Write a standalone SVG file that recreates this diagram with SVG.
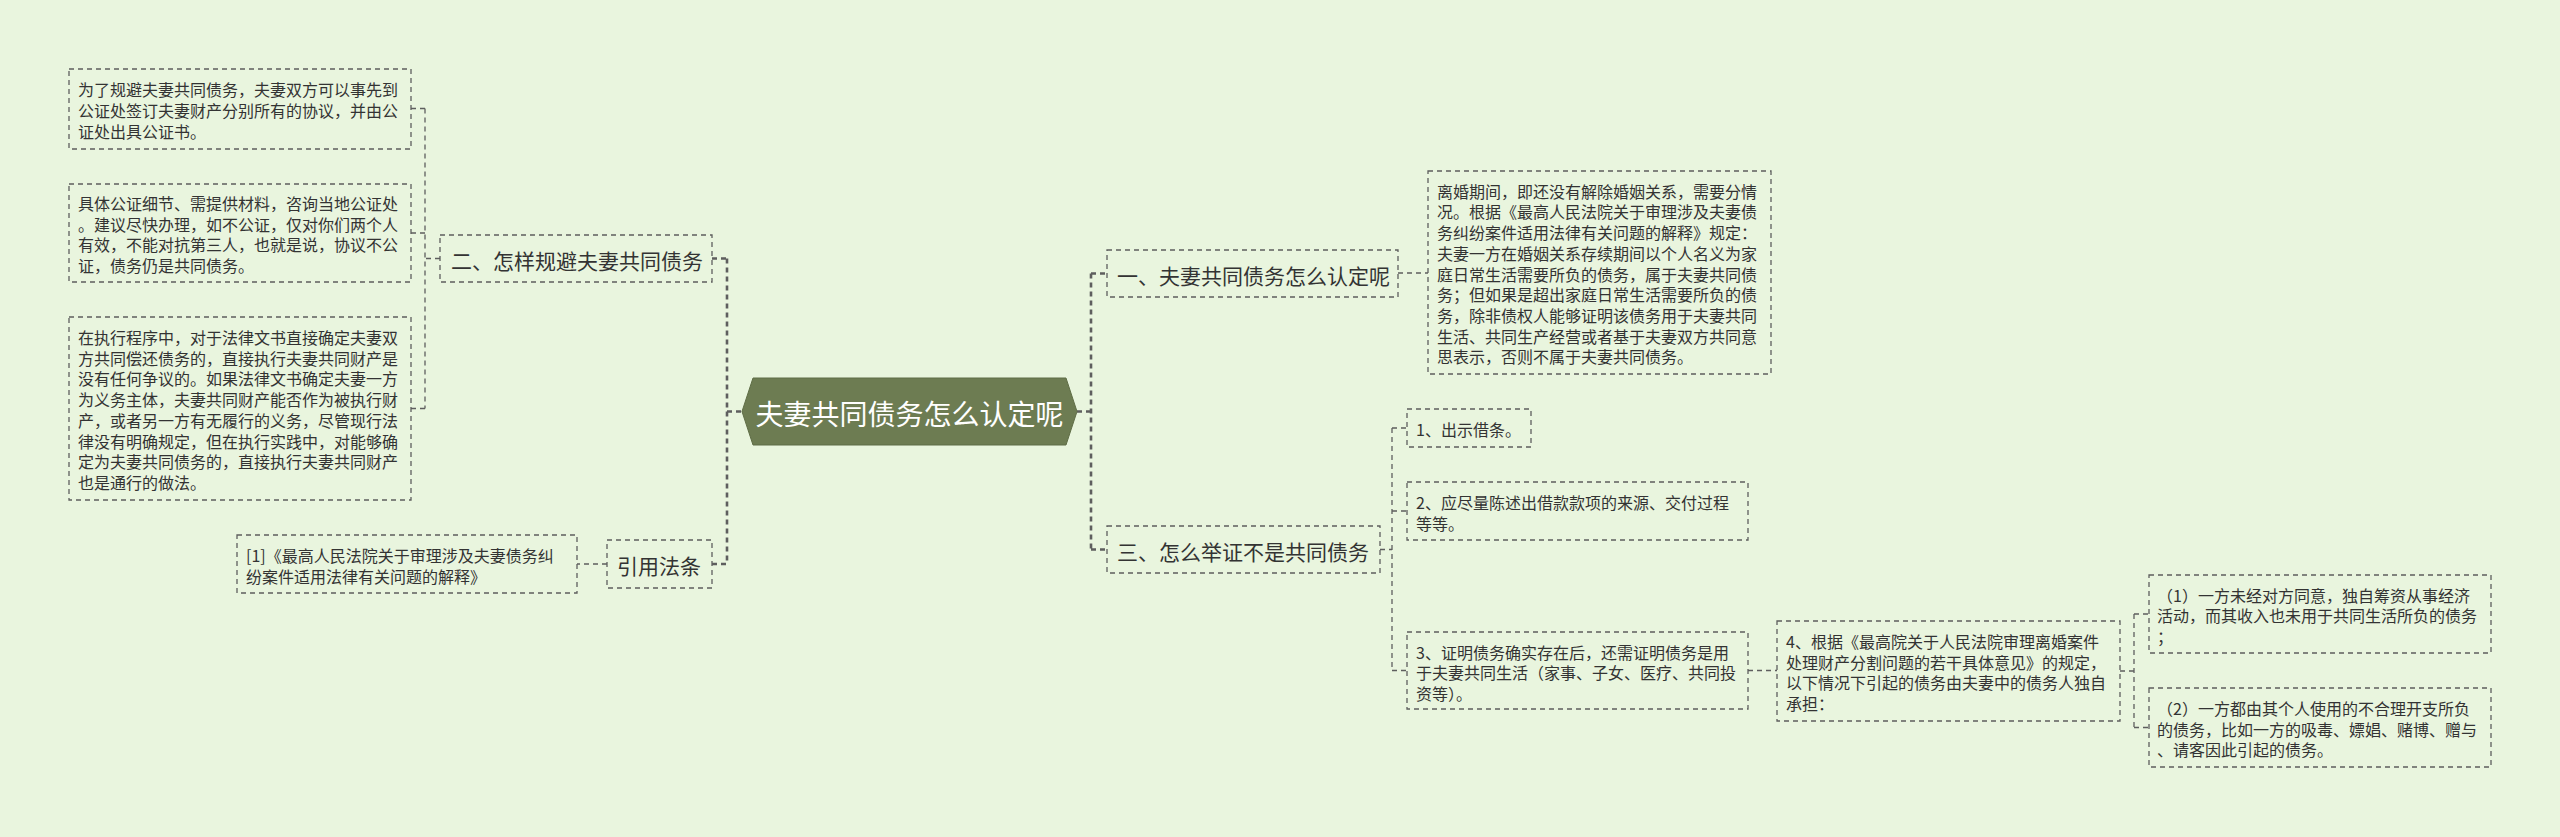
<svg xmlns="http://www.w3.org/2000/svg" width="2560" height="837" viewBox="0 0 2560 837">
<style>
.bg{fill:#e9f5de}
.box{fill:none;stroke:#5e5e5e;stroke-width:1.3;stroke-dasharray:5 4}
.t{font-family:"Noto Sans CJK SC","Noto Sans",sans-serif;font-size:16px;fill:#333;dominant-baseline:central}
.tl{font-size:21px}
.tc{font-size:28px;fill:#ffffff;text-anchor:middle}
.c{fill:none;stroke:#5e5e5e;stroke-width:1.3;stroke-dasharray:5 4}
.ck{stroke-width:2.6}
</style>
<rect class="bg" x="0" y="0" width="2560" height="837"/>
<g id="connectors">
  <path class="c ck" d="M727 258.5V564 M727 411.5H742 M712 258.5H727 M712 564H727"/>
  <path class="c" d="M440 258.5H425 M425 108.5V408.5 M411 108.5H425 M411 233H425 M411 408.5H425"/>
  <path class="c" d="M607 564H577"/>
  <path class="c ck" d="M1091 273.5V549.5 M1077 411.5H1091 M1091 273.5H1107 M1091 549.5H1107"/>
  <path class="c" d="M1398 273H1428"/>
  <path class="c" d="M1380 549.5H1392 M1392 428V670.5 M1392 428H1407 M1392 511H1407 M1392 670.5H1407"/>
  <path class="c" d="M1748 670.5H1777"/>
  <path class="c" d="M2120 671H2134 M2134 614V727.5 M2134 614H2149 M2134 727.5H2149"/>
</g>
<g id="center">
  <polygon points="742,411.5 753,378 1066,378 1077,411.5 1066,445 753,445" fill="#6d7c52" stroke="#5f6d46" stroke-width="1"/>
  <text class="t tc" x="909.5" y="412.5">夫妻共同债务怎么认定呢</text>
</g>
<g id="n-er">
  <rect class="box" x="440" y="235" width="272" height="47"/>
  <text class="t tl" x="451" y="259.5">二、怎样规避夫妻共同债务</text>
</g>
<g id="n-er-1">
  <rect class="box" x="69" y="69" width="342" height="80"/>
  <text class="t" x="78" y="89.3">为了规避夫妻共同债务，夫妻双方可以事先到</text>
  <text class="t" x="78" y="110">公证处签订夫妻财产分别所有的协议，并由公</text>
  <text class="t" x="78" y="130.7">证处出具公证书。</text>
</g>
<g id="n-er-2">
  <rect class="box" x="69" y="184" width="342" height="98"/>
  <text class="t" x="78" y="203">具体公证细节、需提供材料，咨询当地公证处</text>
  <text class="t" x="78" y="223.7">。建议尽快办理，如不公证，仅对你们两个人</text>
  <text class="t" x="78" y="244.4">有效，不能对抗第三人，也就是说，协议不公</text>
  <text class="t" x="78" y="265.1">证，债务仍是共同债务。</text>
</g>
<g id="n-er-3">
  <rect class="box" x="69" y="317" width="342" height="183"/>
  <text class="t" x="78" y="337">在执行程序中，对于法律文书直接确定夫妻双</text>
  <text class="t" x="78" y="357.7">方共同偿还债务的，直接执行夫妻共同财产是</text>
  <text class="t" x="78" y="378.4">没有任何争议的。如果法律文书确定夫妻一方</text>
  <text class="t" x="78" y="399.1">为义务主体，夫妻共同财产能否作为被执行财</text>
  <text class="t" x="78" y="419.8">产，或者另一方有无履行的义务，尽管现行法</text>
  <text class="t" x="78" y="440.5">律没有明确规定，但在执行实践中，对能够确</text>
  <text class="t" x="78" y="461.2">定为夫妻共同债务的，直接执行夫妻共同财产</text>
  <text class="t" x="78" y="481.9">也是通行的做法。</text>
</g>
<g id="n-law">
  <rect class="box" x="607" y="540" width="105" height="48"/>
  <text class="t tl" x="617" y="565">引用法条</text>
</g>
<g id="n-law-1">
  <rect class="box" x="237" y="535" width="340" height="58"/>
  <text class="t" x="246" y="555">[1]《最高人民法院关于审理涉及夫妻债务纠</text>
  <text class="t" x="246" y="575.7">纷案件适用法律有关问题的解释》</text>
</g>
<g id="n-yi">
  <rect class="box" x="1107" y="250" width="291" height="47"/>
  <text class="t tl" x="1117" y="274.5">一、夫妻共同债务怎么认定呢</text>
</g>
<g id="n-yi-1">
  <rect class="box" x="1428" y="171" width="343" height="203"/>
  <text class="t" x="1437" y="190.7">离婚期间，即还没有解除婚姻关系，需要分情</text>
  <text class="t" x="1437" y="211.4">况。根据《最高人民法院关于审理涉及夫妻债</text>
  <text class="t" x="1437" y="232.1">务纠纷案件适用法律有关问题的解释》规定：</text>
  <text class="t" x="1437" y="252.8">夫妻一方在婚姻关系存续期间以个人名义为家</text>
  <text class="t" x="1437" y="273.5">庭日常生活需要所负的债务，属于夫妻共同债</text>
  <text class="t" x="1437" y="294.2">务；但如果是超出家庭日常生活需要所负的债</text>
  <text class="t" x="1437" y="314.9">务，除非债权人能够证明该债务用于夫妻共同</text>
  <text class="t" x="1437" y="335.6">生活、共同生产经营或者基于夫妻双方共同意</text>
  <text class="t" x="1437" y="356.3">思表示，否则不属于夫妻共同债务。</text>
</g>
<g id="n-san">
  <rect class="box" x="1107" y="526" width="273" height="47"/>
  <text class="t tl" x="1117" y="550.5">三、怎么举证不是共同债务</text>
</g>
<g id="n-san-1">
  <rect class="box" x="1407" y="409" width="124" height="38"/>
  <text class="t" x="1416" y="429">1、出示借条。</text>
</g>
<g id="n-san-2">
  <rect class="box" x="1407" y="482" width="341" height="58"/>
  <text class="t" x="1416" y="502">2、应尽量陈述出借款款项的来源、交付过程</text>
  <text class="t" x="1416" y="522.7">等等。</text>
</g>
<g id="n-san-3">
  <rect class="box" x="1407" y="632" width="341" height="77"/>
  <text class="t" x="1416" y="651.5">3、证明债务确实存在后，还需证明债务是用</text>
  <text class="t" x="1416" y="672.2">于夫妻共同生活（家事、子女、医疗、共同投</text>
  <text class="t" x="1416" y="692.9">资等）。</text>
</g>
<g id="n-san-4">
  <rect class="box" x="1777" y="621" width="343" height="100"/>
  <text class="t" x="1786" y="641">4、根据《最高院关于人民法院审理离婚案件</text>
  <text class="t" x="1786" y="661.7">处理财产分割问题的若干具体意见》的规定，</text>
  <text class="t" x="1786" y="682.4">以下情况下引起的债务由夫妻中的债务人独自</text>
  <text class="t" x="1786" y="703.1">承担：</text>
</g>
<g id="n-san-4-1">
  <rect class="box" x="2149" y="575" width="342" height="78"/>
  <text class="t" x="2157" y="594.5">（1）一方未经对方同意，独自筹资从事经济</text>
  <text class="t" x="2157" y="615.2">活动，而其收入也未用于共同生活所负的债务</text>
  <text class="t" x="2157" y="635.9">；</text>
</g>
<g id="n-san-4-2">
  <rect class="box" x="2149" y="688" width="342" height="79"/>
  <text class="t" x="2157" y="708">（2）一方都由其个人使用的不合理开支所负</text>
  <text class="t" x="2157" y="728.7">的债务，比如一方的吸毒、嫖娼、赌博、赠与</text>
  <text class="t" x="2157" y="749.4">、请客因此引起的债务。</text>
</g>
</svg>
